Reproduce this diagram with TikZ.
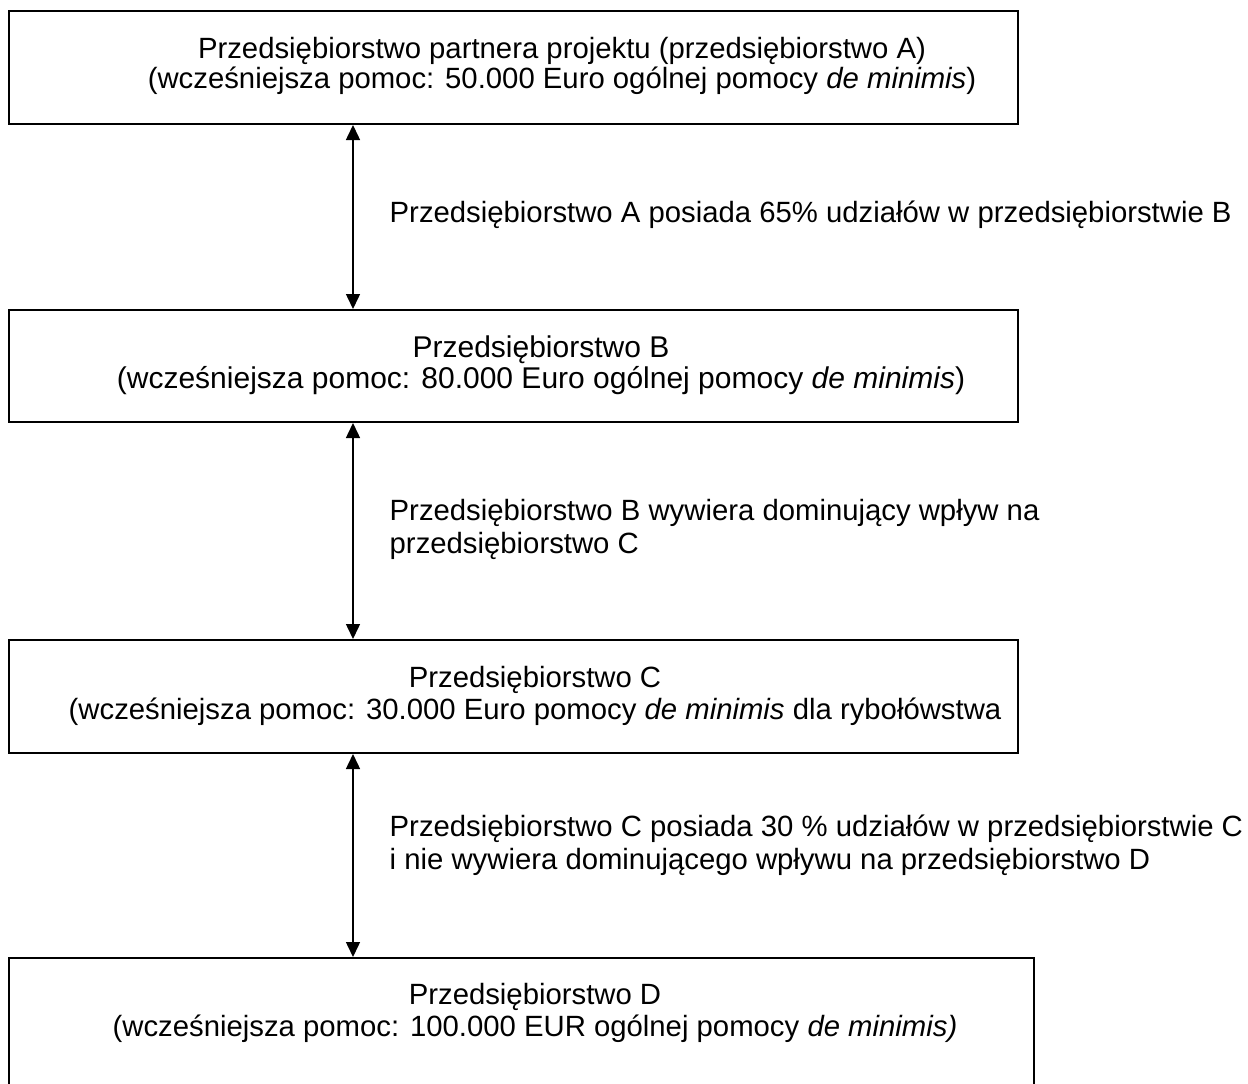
\documentclass[tikz,border=0pt]{standalone}
\usepackage{fontspec}
\setmainfont{Liberation Sans}
\usetikzlibrary{arrows.meta}
\begin{document}
\begin{tikzpicture}[x=1pt,y=-1pt,
  box/.style={draw,line width=2pt,inner sep=0pt},
  txt/.style={inner sep=0pt,align=center,anchor=base,font=\fontsize{29.3}{31.5}\selectfont},
  lbl/.style={inner sep=0pt,align=left,anchor=base west,font=\fontsize{29.3}{32.5}\selectfont},
  arr/.style={line width=1.5pt,{Triangle[width=14pt,length=15pt]}-{Triangle[width=14pt,length=15pt]}}]
\useasboundingbox (0,0) rectangle (1248,1084);
\fill[white] (0,0) rectangle (1248,1084);
\clip (0,0) rectangle (1248,1084);
% boxes
\node[box,minimum width=1009pt,minimum height=113pt] (A) at (513.5,67.5) {};
\node[box,minimum width=1009pt,minimum height=112pt] (B) at (513.5,366) {};
\node[box,minimum width=1009pt,minimum height=113pt] (C) at (513.5,696.5) {};
\node[box,minimum width=1025pt,minimum height=142pt] (D) at (521.5,1029) {};
% box texts (anchor = baseline of last line)
\node[txt] (tA) at (562,88) {Przedsiębiorstwo partnera projektu (przedsiębiorstwo A)\\[-2pt](wcześniejsza pomoc: 50.000 Euro ogólnej pomocy \textit{de minimis})};
\node[txt,font=\fontsize{30}{31}\selectfont] (tB) at (541,388) {Przedsiębiorstwo B\\(wcześniejsza pomoc: 80.000 Euro ogólnej pomocy \textit{de minimis})};
\node[txt] (tC) at (535,719) {Przedsiębiorstwo C\\(wcześniejsza pomoc: 30.000 Euro pomocy \textit{de minimis} dla rybołówstwa};
\node[txt] (tD) at (535,1036) {Przedsiębiorstwo D\\(wcześniejsza pomoc: 100.000 EUR ogólnej pomocy \textit{de minimis)}};
% connectors
\coordinate (ax) at (353,0);
\draw[arr] (A.south -| ax) -- (B.north -| ax);
\draw[arr] (B.south -| ax) -- (C.north -| ax);
\draw[arr] (C.south -| ax) -- (D.north -| ax);
% labels
\node[lbl] (l1) at (389.5,222) {Przedsiębiorstwo A posiada 65\% udziałów w przedsiębiorstwie B};
\node[lbl] (l2) at (389.5,553) {Przedsiębiorstwo B wywiera dominujący wpływ na\\przedsiębiorstwo C};
\node[lbl] (l3) at (389.5,869) {Przedsiębiorstwo C posiada 30 \% udziałów w przedsiębiorstwie C\\i nie wywiera dominującego wpływu na przedsiębiorstwo D};
\end{tikzpicture}
\end{document}
